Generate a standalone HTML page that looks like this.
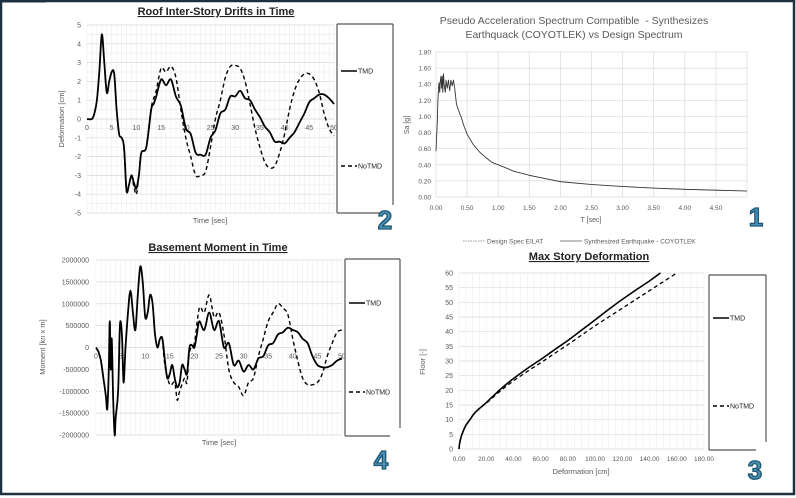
<!DOCTYPE html>
<html><head><meta charset="utf-8">
<style>
html,body{margin:0;padding:0;background:#fff}
svg{display:block}
text{font-family:"Liberation Sans",Arial,sans-serif}
</style></head>
<body>
<svg id="s" width="796" height="498" viewBox="0 0 796 498" xmlns="http://www.w3.org/2000/svg">
<rect x="0" y="0" width="796" height="498" fill="#fff"/>
<rect x="1" y="1" width="793" height="493" fill="none" stroke="#1b3140" stroke-width="2.5"/>
<rect x="0" y="0" width="46" height="2.5" fill="#1b3140"/>
<g id="g"></g>
</svg>
<script>
var g=document.getElementById('g');var o='';
function L(x1,y1,x2,y2,c,w,d){o+='<line x1="'+x1+'" y1="'+y1+'" x2="'+x2+'" y2="'+y2+'" stroke="'+c+'" stroke-width="'+(w||1)+'"'+(d?' stroke-dasharray="'+d+'"':'')+'/>';}
function T(x,y,s,fs,a,c,extra){o+='<text x="'+x+'" y="'+y+'" font-size="'+fs+'" text-anchor="'+(a||'middle')+'" fill="'+(c||'#595959')+'" '+(extra||'')+'>'+s+'</text>';}
function P(pts,mx,my,c,w,d,sm){var q=pts.map(function(p){return [mx(p[0]),my(p[1])]});var s='M'+q[0][0].toFixed(1)+' '+q[0][1].toFixed(1);
 for(var i=1;i<q.length;i++){if(sm){var p0=q[Math.max(i-2,0)],p1=q[i-1],p2=q[i],p3=q[Math.min(i+1,q.length-1)];
  var c1x=p1[0]+(p2[0]-p0[0])/6,c1y=p1[1]+(p2[1]-p0[1])/6,c2x=p2[0]-(p3[0]-p1[0])/6,c2y=p2[1]-(p3[1]-p1[1])/6;
  s+=' C'+c1x.toFixed(1)+' '+c1y.toFixed(1)+' '+c2x.toFixed(1)+' '+c2y.toFixed(1)+' '+p2[0].toFixed(1)+' '+p2[1].toFixed(1);}
  else s+=' L'+q[i][0].toFixed(1)+' '+q[i][1].toFixed(1);}
 o+='<path d="'+s+'" fill="none" stroke="'+c+'" stroke-width="'+w+'" stroke-linejoin="round"'+(d?' stroke-dasharray="'+d+'"':'')+'/>';}
function lin(a,b,A,B){return function(v){return A+(v-a)/(b-a)*(B-A)}}
function num(n,x,y){o+='<text x="'+x+'" y="'+y+'" font-size="26" font-weight="bold" text-anchor="middle" fill="#4b8fb3" stroke="#1d5775" stroke-width="1.3" font-family="Liberation Sans,sans-serif">'+n+'</text>';}
function legend(x1,y1,x2,y2,yt,yn){L(x1,y1,x2,y1,'#555',1.2);L(x1,y1,x1,y2,'#555',1.2);L(x1,y2,x2-10,y2,'#555',1.2);L(x2,y1,x2,y2-8,'#555',1.2);
 L(x1+4,yt,x1+20,yt,'#000',1.5);T(x1+21,yt+2.5,'TMD',7,'start','#222');
 L(x1+4,yn,x1+20,yn,'#000',1.5,'4,3');T(x1+21,yn+2.5,'NoTMD',7,'start','#222');}

// ===== Chart 2 =====
(function(){var mx=lin(0,50,87,334),my=lin(-5,5,213,25);
for(var t=0;t<=50;t++)L(mx(t),25,mx(t),213,'#ececec',0.6);
for(var v=-5;v<=5;v+=0.5)L(87,my(v),334,my(v),v%1==0?'#d9d9d9':'#ececec',0.7);
L(87,my(0),334,my(0),'#d9d9d9',0.8);
for(var v=-5;v<=5;v++)T(81,my(v)+2.5,v,7,'end');
for(var t=0;t<=50;t+=5)T(mx(t),my(0)+11,t,7);
var base=[[0,0],[1,0],[1.5,0.3],[2,1],[2.5,2.5],[3,4.5],[3.5,3],[4,1.4],[4.5,2],[5,2.5],[5.5,2.4],[6,0.5],[6.5,-0.8],[7,-1],[7.5,-1.5],[8,-3.8],[8.5,-3.5],[9,-3],[9.5,-3.4],[10,-3.7],[10.5,-3],[11,-1.8],[12,-1.5],[13,0.5]];
var tmd=base.concat([[13.5,0.8],[14,1.2],[15,2.1],[16,1.8],[17,2.1],[18,1.2],[19,0.7],[20,-0.5],[21,-0.8],[22,-1.8],[23,-1.9],[24,-1.9],[25,-1],[26,-0.6],[27,0.3],[28,0.5],[29,1.2],[30,1.2],[31,1.5],[32,1.1],[33,1.0],[34,0.5],[35,0.1],[36,-0.4],[37,-0.7],[38,-1.2],[39,-1.2],[40,-1.3],[41,-1],[42,-0.7],[43,-0.2],[44,0.3],[45,0.9],[46,1.1],[47,1.3],[48,1.3],[49,1.1],[50,0.8]]);
var no=[[7.5,-1.5],[8,-3.8],[8.5,-3.5],[9,-3],[9.5,-3.6],[10,-4],[10.5,-3],[11,-1.8],[12,-1.5],[13,0.6],[14,1.5],[15,2.7],[16,2.5],[17,2.8],[18,2.2],[19,0.5],[20,-1],[21,-2],[22,-3],[23,-3],[24,-2.8],[25,-1.5],[26,0],[27,1],[28,2.2],[29,2.8],[30,2.85],[31,2.7],[32,2],[33,0.8],[34,-0.5],[35,-1.5],[36,-2.3],[37,-2.6],[38,-2.5],[39,-1.8],[40,-0.8],[41,0.5],[42,1.5],[43,2.1],[44,2.4],[45,2.4],[46,2.1],[47,1.4],[48,0.3],[49,-0.5],[50,-0.9]];
P(no,mx,my,'#000',1.4,'4,3',1);P(tmd,mx,my,'#000',1.8,0,1);
T(216,15,'Roof Inter-Story Drifts in Time',11,'middle','#222','font-weight="bold" text-decoration="underline"');
T(210,223,'Time [sec]',7.5);
T(64,119,'Deformation [cm]',7.5,'middle','#595959','transform="rotate(-90 64 119)"');
legend(337,24,393,213,71,166);
num('2',385,229);
})();

// ===== Chart 4 =====
(function(){var mx=lin(0,50,96,342),my=lin(-2,2,435,260);
for(var t=0;t<=50;t++)L(mx(t),260,mx(t),435,'#ececec',0.6);
for(var v=-2;v<=2;v+=0.5)L(96,my(v),342,my(v),'#d9d9d9',0.7);
var lab=['-2000000','-1500000','-1000000','-500000','0','500000','1000000','1500000','2000000'];
for(var i=0;i<9;i++)T(89,my(-2+i*0.5)+2.5,lab[i],7,'end');
for(var t=0;t<=50;t+=5)T(mx(t),my(0)+11,t,7);
var tmd=[[0,0],[0.5,-0.1],[1,-0.3],[1.5,-0.7],[2,-1.1],[2.3,-1.4],[2.6,-0.5],[2.8,0.6],[3,-0.5],[3.2,0.2],[3.5,-1.2],[3.8,-2.0],[4,-1.6],[4.5,-1.0],[4.8,0.3],[5,0.6],[5.3,0.2],[5.6,-0.8],[6,0],[6.5,0.8],[7,1.3],[7.5,0.8],[8,0.4],[8.5,1.2],[9,1.85],[9.5,1.5],[10,0.7],[10.5,0.8],[11,1.2],[11.5,1],[12,0.3],[12.5,0],[13,0.2],[13.5,0.2],[14,-0.3],[14.5,-0.7],[15,-0.6],[15.5,-0.4],[16,-0.7],[16.5,-0.9],[17,-0.8],[17.5,-0.4],[18,-0.5],[18.5,-0.6],[19,0],[19.5,0.05],[20,0],[20.5,0.3],[21,0.6],[22,0.4],[23,0.8],[24,0.4],[25,0.6],[26,0],[27,0.1],[28,-0.4],[29,-0.3],[30,-0.55],[31,-0.4],[32,-0.5],[33,-0.25],[34,-0.2],[35,0.05],[36,0.1],[37,0.3],[38,0.35],[39,0.45],[40,0.4],[41,0.35],[42,0.2],[43,0.1],[44,-0.2],[45,-0.4],[46,-0.45],[47,-0.45],[48,-0.4],[49,-0.3],[50,-0.25]];
var no=[[13.5,0.2],[14,-0.4],[15,-0.85],[16,-0.8],[16.5,-1.2],[17,-1],[18,-0.7],[18.5,-0.8],[19,-0.1],[20,0.1],[21,0.9],[22,0.8],[23,1.2],[24,0.7],[25,0.8],[26,0.3],[27,-0.5],[28,-0.8],[29,-0.9],[30,-1.1],[31,-0.8],[32,-0.7],[33,-0.2],[34,0.2],[35,0.6],[36,0.8],[37,1.0],[38,0.9],[39,0.75],[40,0.2],[41,-0.3],[42,-0.7],[43,-0.85],[44,-0.85],[45,-0.8],[46,-0.6],[47,-0.2],[48,0.1],[49,0.35],[50,0.4]];
P(no,mx,my,'#000',1.4,'4,3',1);P(tmd,mx,my,'#000',1.8,0,1);
T(218,251,'Basement Moment in Time',11,'middle','#222','font-weight="bold" text-decoration="underline"');
T(219,445,'Time [sec]',7.5);
T(45,347,'Moment [kn x m]',7.5,'middle','#595959','transform="rotate(-90 45 347)"');
legend(345,259,400,436,303,392);
num('4',381,469);
})();

// ===== Chart 1 =====
(function(){var mx=lin(0,5,436,747),my=lin(0,1.8,197,52);
for(var t=0;t<=5;t+=0.5)L(mx(t),52,mx(t),197,'#d9d9d9',0.7);
for(var v=0;v<=1.81;v+=0.2)L(436,my(v),747,my(v),'#d9d9d9',0.7);
for(var v=0;v<=1.81;v+=0.2)T(431,my(v)+2.5,v.toFixed(2),6.5,'end');
for(var t=0;t<5;t+=0.5)T(mx(t),210,t.toFixed(2),6.5);
var d=[[0,0.57],[0.02,0.9],[0.03,1.2],[0.04,1.35],[0.05,1.42],[0.06,1.3],[0.07,1.45],[0.08,1.5],[0.09,1.35],[0.1,1.5],[0.11,1.3],[0.12,1.53],[0.13,1.4],[0.15,1.3],[0.16,1.45],[0.18,1.35],[0.2,1.45],[0.22,1.32],[0.24,1.45],[0.26,1.38],[0.28,1.45],[0.3,1.35],[0.33,1.15],[0.36,1.08],[0.4,1.0],[0.45,0.88],[0.48,0.82],[0.5,0.78],[0.6,0.65],[0.7,0.56],[0.8,0.49],[0.9,0.43],[1.0,0.4],[1.25,0.32],[1.5,0.27],[1.75,0.23],[2,0.19],[2.5,0.155],[3,0.13],[3.5,0.11],[4,0.095],[4.5,0.085],[5,0.075]];
P(d,mx,my,'#777',0.9,'1.5,1');P(d,mx,my,'#333',0.8);
T(574,24,'Pseudo Acceleration Spectrum Compatible&#160; - Synthesizes',10.5,'middle','#595959');
T(574,38,'Earthquack (COYOTLEK) vs Design Spectrum',10.5,'middle','#595959');
T(591,222,'T [sec]',7);
T(409,125,'Sa [g]',7,'middle','#595959','transform="rotate(-90 409 125)"');
L(463,241,485,241,'#777',0.8,'1.5,1');T(487,243.5,'Design Spec EILAT',6.5,'start');
L(560,241,582,241,'#555',0.8);T(584,243.5,'Synthesized Earthquake - COYOTLEK',6.5,'start');
num('1',756,226);
})();

// ===== Chart 3 =====
(function(){var mx=lin(0,180,459,704),my=lin(0,60,449,273);
for(var t=0;t<=180;t+=5)L(mx(t),273,mx(t),449,'#ececec',0.6);
for(var v=0;v<=60;v+=5)L(459,my(v),704,my(v),'#d9d9d9',0.7);
for(var v=0;v<=60;v+=5)T(453,my(v)+2.5,v,7,'end');
for(var t=0;t<=180;t+=20)T(mx(t),461,t.toFixed(2),6.5);
var a=[[0,0],[0.5,2],[1.5,4],[3,6],[5,8],[8,10],[11,12],[15,13.8],[20,15.8],[25,18],[32,21],[40,24],[50,27.4],[60,30.5],[70,33.8],[80,37],[90,40.5],[100,44],[110,47.6],[120,51],[130,54.2],[140,57.3],[148,60]];
var b=[[0,0],[0.5,2],[1.5,4],[3,6],[5,8],[8,10],[11,12],[15,13.8],[20,15.6],[25,17.6],[32,20.4],[40,23.2],[50,26.4],[60,29.4],[70,32.5],[80,35.6],[90,38.8],[100,42],[110,45],[120,48],[130,51],[140,54],[150,57],[160,60]];
P(b,mx,my,'#000',1.3,'4,3',1);P(a,mx,my,'#000',1.6,0,1);
T(589,260,'Max Story Deformation',11,'middle','#222','font-weight="bold" text-decoration="underline"');
T(581,474,'Deformation [cm]',7.5);
T(425,362,'Floor [-]',7.5,'middle','#595959','transform="rotate(-90 425 362)"');
legend(709,275,766,450,318,406);
num('3',755,479);
})();
g.innerHTML=o;
</script>
</body></html>
